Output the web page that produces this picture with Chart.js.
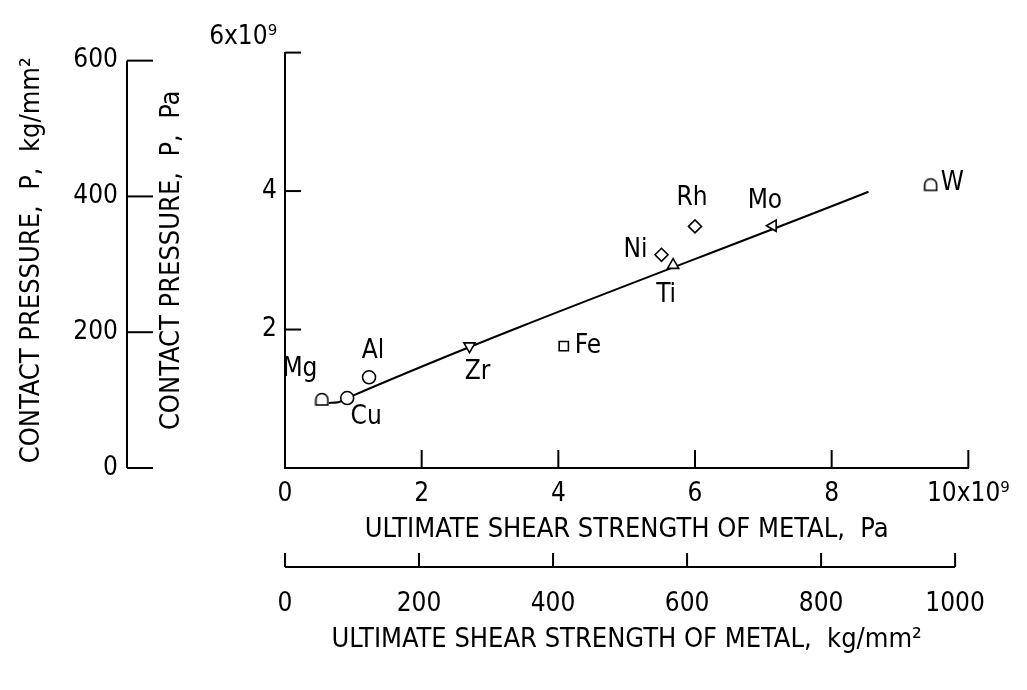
<!DOCTYPE html>
<html>
<head>
<meta charset="utf-8">
<title>Contact pressure vs ultimate shear strength</title>
<script src="https://cdn.jsdelivr.net/npm/chart.js@4.4.1/dist/chart.umd.min.js"></script>
<style>
  html, body { margin: 0; padding: 0; background: #fff; }
  #wrap { width: 1027px; height: 690px; }
</style>
</head>
<body>
<div id="wrap"><canvas id="shearChart"></canvas></div>
<script>
// metals, left to right along the shear strength axis
var metals = ['Mg', 'Cu', 'Al', 'Zr', 'Fe', 'Ni', 'Ti', 'Rh', 'Mo', 'W'];
// ultimate shear strength, 10^9 Pa
var shearStrength = [0.54, 0.91, 1.23, 2.70, 4.08, 5.51, 5.68, 6.00, 7.14, 9.45];
// contact pressure, 10^9 Pa
var contactPressure = [0.99, 1.01, 1.31, 1.76, 1.76, 3.08, 2.93, 3.49, 3.50, 4.09];
// faired curve drawn through the data
var curveX = [0.64, 0.78, 0.91, 8.54];
var curveY = [0.94, 0.95, 1.01, 3.99];
// tick values
var paTicksX = [0, 2, 4, 6, 8, 10];
var paTicksY = [0, 2, 4, 6];
var kgTicksX = [0, 200, 400, 600, 800, 1000];
var kgTicksY = [0, 200, 400, 600];

var PA_PER_KGMM2 = 9.80665e6;
var FONT = "'DejaVu Sans Condensed', 'Liberation Sans Narrow', 'Liberation Sans', sans-serif";

// open dome symbol used for Mg and W
function domeMarker(size) {
  var c = document.createElement('canvas');
  c.width = size; c.height = size;
  var g = c.getContext('2d');
  var r = size / 2 - 1.5;
  g.lineWidth = 1.6;
  g.strokeStyle = '#000';
  g.fillStyle = '#fff';
  g.beginPath();
  g.moveTo(size / 2 - r, size - 2);
  g.lineTo(size / 2 - r, size / 2);
  g.arc(size / 2, size / 2, r, Math.PI, 0);
  g.lineTo(size / 2 + r, size - 2);
  g.closePath();
  g.fill();
  g.stroke();
  return c;
}
var dome = domeMarker(15);
var markerStyle = [dome, 'circle', 'circle', 'triangle', 'rect', 'rectRot', 'triangle', 'rectRot', 'triangle', dome];
var markerRotation = [0, 0, 0, 180, 0, 0, 0, 0, -90, 0];
// where each name sits relative to its marker (px)
var labelShift = [[-22, -30], [19, 19], [4, -26], [8, 26], [11, 0], [-26, -5], [-7, 30], [-3, -28], [-8, -24], [10, -2]];
var labelAlign = ['center', 'center', 'center', 'center', 'left', 'center', 'center', 'center', 'center', 'left'];

function tickFont(size) { return { family: FONT, size: size }; }

var metalLabels = {
  id: 'metalLabels',
  afterDatasetsDraw: function (chart) {
    var ctx = chart.ctx;
    var meta = chart.getDatasetMeta(0);
    ctx.save();
    ctx.fillStyle = '#000';
    ctx.font = '26px ' + FONT;
    ctx.textBaseline = 'middle';
    meta.data.forEach(function (pt, i) {
      ctx.textAlign = labelAlign[i];
      ctx.fillText(metals[i], pt.x + labelShift[i][0], pt.y + labelShift[i][1]);
    });
    ctx.restore();
  }
};

// tick marks pointing in toward the plot, plus the baselines of the kg/mm2 scales
var axisMarks = {
  id: 'axisMarks',
  afterDraw: function (chart) {
    var ctx = chart.ctx, s = chart.scales;
    function seg(x1, y1, x2, y2) { ctx.beginPath(); ctx.moveTo(x1, y1); ctx.lineTo(x2, y2); ctx.stroke(); }
    ctx.save();
    ctx.strokeStyle = '#000';
    ctx.lineWidth = 2;
    paTicksX.forEach(function (v) { var p = s.x.getPixelForValue(v); seg(p, s.x.top, p, s.x.top - 18); });
    paTicksY.forEach(function (v) { var p = s.y.getPixelForValue(v); seg(s.y.right, p, s.y.right + 16, p); });
    var by = s.x2.top + 19;
    seg(s.x2.getPixelForValue(0), by, s.x2.getPixelForValue(kgTicksX[kgTicksX.length - 1]), by);
    kgTicksX.forEach(function (v) { var p = s.x2.getPixelForValue(v); seg(p, by, p, by - 14); });
    var bx = s.y2.right - 28;
    seg(bx, s.y2.getPixelForValue(0), bx, s.y2.getPixelForValue(kgTicksY[kgTicksY.length - 1]));
    kgTicksY.forEach(function (v) { var p = s.y2.getPixelForValue(v); seg(bx, p, bx + 26, p); });
    ctx.restore();
  }
};

function fixedTicks(values) {
  return function (scale) { scale.ticks = values.map(function (v) { return { value: v }; }); };
}

var ctx = document.getElementById('shearChart');
var shearChart = new Chart(ctx, {
  type: 'scatter',
  data: {
    datasets: [
      {
        label: 'Metals',
        data: shearStrength.map(function (v, i) { return { x: v, y: contactPressure[i] }; }),
        pointStyle: markerStyle,
        rotation: markerRotation,
        pointRadius: 6.5,
        borderColor: '#000',
        backgroundColor: '#fff',
        borderWidth: 1.6,
        showLine: false
      },
      {
        label: 'Curve',
        data: curveX.map(function (v, i) { return { x: v, y: curveY[i] }; }),
        showLine: true,
        borderColor: '#000',
        borderWidth: 2,
        pointRadius: 0,
        cubicInterpolationMode: 'monotone'
      }
    ]
  },
  options: {
    responsive: true,
    maintainAspectRatio: false,
    animation: false,
    layout: { padding: { left: 0, top: 50, right: 52, bottom: 30 } },
    plugins: {
      legend: { display: false },
      tooltip: { enabled: false }
    },
    scales: {
      x: {
        type: 'linear', position: 'bottom', min: 0, max: 10,
        afterBuildTicks: fixedTicks(paTicksX),
        afterFit: function (s) { s.height = 80; },
        grid: { display: false, drawTicks: false },
        border: { display: true, color: '#000', width: 2 },
        ticks: {
          color: '#000', font: tickFont(26), padding: 11, maxRotation: 0, autoSkip: false,
          callback: function (v) { return v === 10 ? '10x10\u2079' : String(v); }
        },
        title: { display: true, text: 'ULTIMATE SHEAR STRENGTH OF METAL,  Pa', color: '#000', font: tickFont(27), padding: { top: 0, bottom: 2 } }
      },
      x2: {
        type: 'linear', position: 'bottom', weight: 1, min: 0, max: 10e9 / PA_PER_KGMM2,
        afterBuildTicks: fixedTicks(kgTicksX),
        afterFit: function (s) { s.height = 112; },
        grid: { display: false, drawTicks: false },
        border: { display: false },
        ticks: {
          color: '#000', font: tickFont(26), padding: 41, maxRotation: 0, autoSkip: false,
          callback: function (v) { return String(v); }
        },
        title: { display: true, text: 'ULTIMATE SHEAR STRENGTH OF METAL,  kg/mm\u00b2', color: '#000', font: tickFont(27), padding: { top: 0, bottom: 4 } }
      },
      y: {
        type: 'linear', position: 'left', min: 0, max: 6,
        afterBuildTicks: fixedTicks(paTicksY),
        afterFit: function (s) { s.width = 130; },
        grid: { display: false, drawTicks: false },
        border: { display: true, color: '#000', width: 2 },
        ticks: {
          color: '#000', font: tickFont(26), padding: 8,
          callback: function (v) { return v === 6 ? ['6x10\u2079', ''] : (v === 0 ? '' : String(v)); }
        },
        title: { display: true, text: 'CONTACT PRESSURE,  P,  Pa', color: '#000', font: tickFont(27), padding: { top: 1, bottom: 0 } }
      },
      y2: {
        type: 'linear', position: 'left', weight: 1, min: 0, max: 6e9 / PA_PER_KGMM2,
        afterBuildTicks: fixedTicks(kgTicksY),
        afterFit: function (s) { s.width = 155; },
        grid: { display: false, drawTicks: false },
        border: { display: false },
        ticks: {
          color: '#000', font: tickFont(26), padding: 37,
          callback: function (v) { return String(v); }
        },
        title: { display: true, text: 'CONTACT PRESSURE,  P,  kg/mm\u00b2', color: '#000', font: tickFont(27), padding: { top: 16, bottom: 0 } }
      }
    }
  },
  plugins: [metalLabels, axisMarks]
});
</script>
</body>
</html>
